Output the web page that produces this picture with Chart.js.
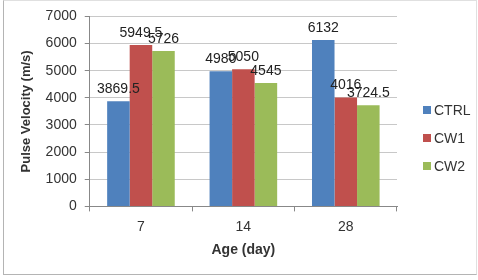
<!DOCTYPE html>
<html>
<head>
<meta charset="utf-8">
<script src="https://cdn.jsdelivr.net/npm/chart.js@4/dist/chart.umd.min.js"></script>
<style>
    html, body { margin: 0; padding: 0; background: #fff; }
    #wrap { position: relative; width: 478px; height: 280px; }
    #frame { position: absolute; left: 3px; top: 0; width: 474px; height: 275px; border: 1px solid #b4b4b4; box-sizing: border-box; border-top-color: #e0e0e0; border-right-color: #e0e0e0; }
    canvas { position: absolute; left: 0; top: 0; }
</style>
</head>
<body>
<div id="wrap">
    <div id="frame"></div>
    <canvas id="pulseChart" width="478" height="280"></canvas>
</div>
<script>
const ages = ['7', '14', '28'];
const ctrlValues = [3869.5, 4980, 6132];
const cw1Values = [5949.5, 5050, 4016];
const cw2Values = [5726, 4545, 3724.5];
const yTicks = [0, 1000, 2000, 3000, 4000, 5000, 6000, 7000];

const FONT = '"Liberation Sans", Arial, sans-serif';
Chart.defaults.font.family = FONT;
Chart.defaults.color = '#333';

// numbers above each bar
const valueLabels = {
    id: 'valueLabels',
    afterDatasetsDraw(chart) {
        const c = chart.ctx;
        c.save();
        c.font = '14px ' + FONT;
        c.fillStyle = '#222';
        c.textAlign = 'center';
        c.textBaseline = 'bottom';
        chart.data.datasets.forEach(function (ds, i) {
            chart.getDatasetMeta(i).data.forEach(function (bar, j) {
                c.fillText(String(ds.data[j]), bar.x, bar.y - 5);
            });
        });
        c.restore();
    }
};

// legend on the right, drawn by hand so it can sit away from the plot
const sideLegend = {
    id: 'sideLegend',
    afterDraw(chart) {
        const c = chart.ctx;
        const x = chart.chartArea.right + 26;
        const rowGap = 28;
        const n = chart.data.datasets.length;
        let y = chart.height / 2 - 2 - rowGap * (n - 1) / 2;
        c.save();
        c.font = '14px ' + FONT;
        c.textAlign = 'left';
        c.textBaseline = 'middle';
        chart.data.datasets.forEach(function (ds) {
            c.fillStyle = ds.backgroundColor;
            c.fillRect(x, y - 4, 8, 8);
            c.fillStyle = '#333';
            c.fillText(ds.label, x + 11, y + 1);
            y += rowGap;
        });
        c.restore();
    }
};

new Chart(document.getElementById('pulseChart'), {
    type: 'bar',
    data: {
        labels: ages,
        datasets: [
            { label: 'CTRL', data: ctrlValues, backgroundColor: '#4F81BD' },
            { label: 'CW1', data: cw1Values, backgroundColor: '#C0504D' },
            { label: 'CW2', data: cw2Values, backgroundColor: '#9BBB59' }
        ]
    },
    options: {
        responsive: false,
        animation: false,
        categoryPercentage: 0.66,
        barPercentage: 1.0,
        layout: { padding: { left: 15, right: 81, top: 8, bottom: 17 } },
        scales: {
            x: {
                grid: { drawOnChartArea: false, drawTicks: true, tickLength: 5, color: '#888' },
                border: { color: '#888' },
                ticks: { font: { size: 14 }, padding: 7 },
                title: { display: true, text: 'Age (day)', font: { size: 14, weight: 'bold' }, padding: { top: 0, bottom: 4 } }
            },
            y: {
                min: 0,
                max: 7000,
                afterBuildTicks(axis) { axis.ticks = yTicks.map(v => ({ value: v })); },
                grid: { color: '#c8c8c8', tickLength: 5, tickColor: '#888' },
                border: { color: '#888' },
                ticks: { font: { size: 14 }, padding: 8, callback: v => String(v) },
                title: { display: true, text: 'Pulse Velocity (m/s)', font: { size: 13, weight: 'bold' }, padding: { top: 4, bottom: 3 } }
            }
        },
        plugins: {
            legend: { display: false },
            tooltip: { enabled: false }
        }
    },
    plugins: [valueLabels, sideLegend]
});
</script>
</body>
</html>
